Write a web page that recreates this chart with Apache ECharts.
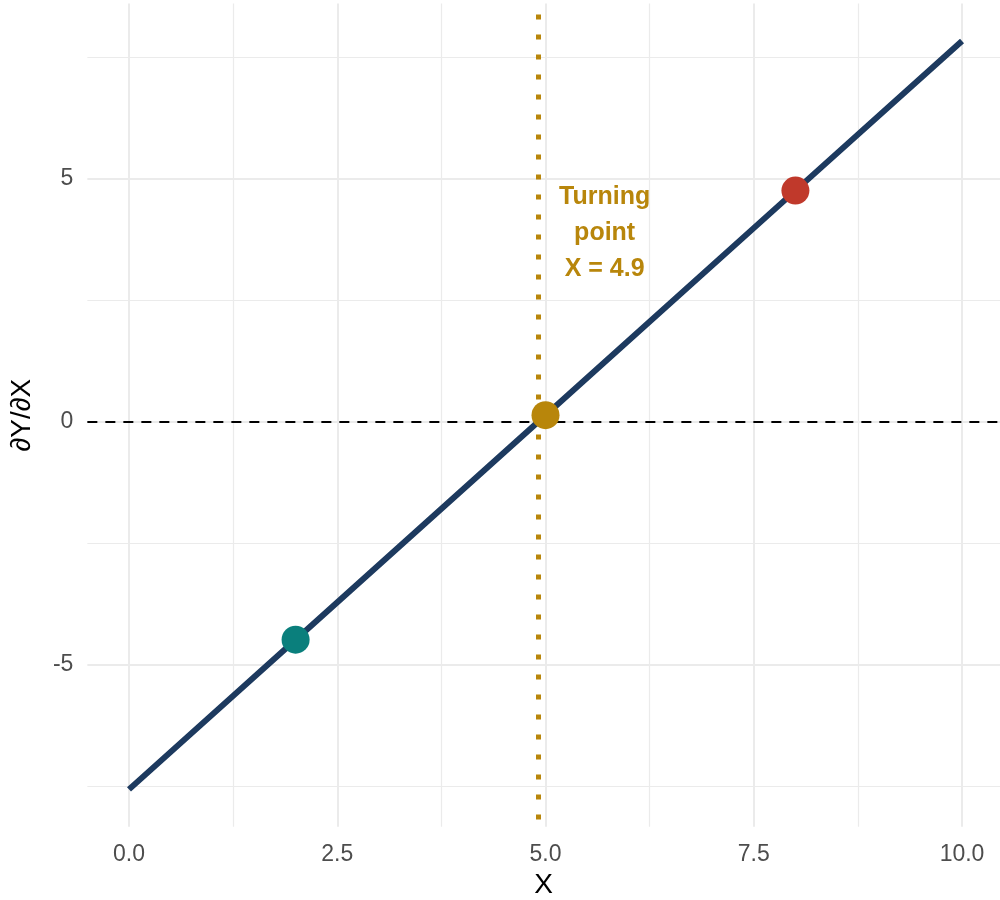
<!DOCTYPE html>
<html>
<head>
<meta charset="utf-8">
<script src="https://cdn.jsdelivr.net/npm/echarts@6/dist/echarts.min.js"></script>
<style>
  html, body { margin: 0; padding: 0; background: #ffffff; }
  #chart { width: 1000px; height: 900px; }
</style>
</head>
<body>
<div id="chart"></div>
<script>
// Marginal effect dY/dX along X
const lineX = [0, 2, 5, 8, 10];
const lineY = [-7.56, -4.48, 0.14, 4.76, 7.84];

// Highlighted points
const pointX = [2, 5, 8];
const pointY = [-4.48, 0.14, 4.76];
const pointColors = ['#0a7f7c', '#b8860b', '#c0392b'];

// Turning point where the effect crosses zero
const turningX = 4.91;
const noteLines = ['Turning', 'point', 'X = 4.9'];
const noteAt = [5.71, 3.88];

// Axis ticks and grid lines
const xTicks = [0, 2.5, 5, 7.5, 10];
const xMinor = [1.25, 3.75, 6.25, 8.75];
const yTicks = [-5, 0, 5];
const yMinor = [-7.5, -2.5, 2.5, 7.5];

const X_MIN = -0.5, X_MAX = 10.456;
const Y_MIN = -8.33, Y_MAX = 8.61;

const FONT = '"Liberation Sans", Arial, sans-serif';
const GOLD = '#b8860b';
const GRID = '#ebebeb';

const chart = echarts.init(document.getElementById('chart'), null, { renderer: 'canvas' });

const gridLines = []
  .concat(xTicks.map(v => ({ xAxis: v, lineStyle: { width: 2 } })))
  .concat(xMinor.map(v => ({ xAxis: v, lineStyle: { width: 1.2 } })))
  .concat(yTicks.map(v => ({ yAxis: v, lineStyle: { width: 2 } })))
  .concat(yMinor.map(v => ({ yAxis: v, lineStyle: { width: 1.2 } })));

chart.setOption({
  animation: false,
  backgroundColor: '#ffffff',
  grid: {
    left: 87.35, top: 3.5, width: 912.65, height: 823.3,
    containLabel: false,
    outerBoundsMode: 'none'
  },
  xAxis: {
    type: 'value',
    min: X_MIN,
    max: X_MAX,
    axisLine: { show: false },
    axisTick: { show: false },
    splitLine: { show: false },
    axisLabel: {
      customValues: xTicks,
      formatter: v => v.toFixed(1),
      color: '#4d4d4d',
      fontSize: 23,
      fontFamily: FONT,
      margin: 16
    },
    name: 'X',
    nameLocation: 'middle',
    nameGap: 44,
    nameTextStyle: { color: '#000000', fontSize: 28, fontFamily: FONT }
  },
  yAxis: {
    type: 'value',
    min: Y_MIN,
    max: Y_MAX,
    axisLine: { show: false },
    axisTick: { show: false },
    splitLine: { show: false },
    axisLabel: {
      customValues: yTicks,
      formatter: v => String(v),
      color: '#4d4d4d',
      fontSize: 23,
      fontFamily: FONT,
      margin: 14
    },
    name: '∂Y/∂X',
    nameLocation: 'middle',
    nameGap: 51,
    nameTextStyle: { color: '#000000', fontSize: 28, fontFamily: FONT }
  },
  series: [
    {
      // panel grid lines
      type: 'line',
      silent: true,
      z: 1,
      data: [],
      markLine: {
        z: 0,
        silent: true,
        symbol: ['none', 'none'],
        label: { show: false },
        lineStyle: { color: GRID, type: 'solid' },
        data: gridLines
      }
    },
    {
      // zero reference and turning point reference
      type: 'line',
      silent: true,
      z: 2,
      data: [],
      markLine: {
        z: 1,
        silent: true,
        symbol: ['none', 'none'],
        label: { show: false },
        data: [
          { yAxis: 0, lineStyle: { color: '#000000', width: 2, type: [10, 8] } },
          [
            { coord: [turningX, Y_MAX], lineStyle: { color: GOLD, width: 5, type: [5, 15], dashOffset: 9 } },
            { coord: [turningX, Y_MIN] }
          ]
        ]
      }
    },
    {
      type: 'line',
      z: 3,
      data: lineX.map((x, i) => [x, lineY[i]]),
      showSymbol: false,
      lineStyle: { color: '#1d3a5f', width: 6, cap: 'butt' }
    },
    {
      type: 'scatter',
      z: 4,
      symbolSize: 28,
      itemStyle: { opacity: 1 },
      data: pointX.map((x, i) => ({
        value: [x, pointY[i]],
        itemStyle: { color: pointColors[i], opacity: 1 }
      }))
    },
    {
      type: 'scatter',
      z: 5,
      symbolSize: 0,
      silent: true,
      itemStyle: { opacity: 1 },
      data: [noteAt],
      label: {
        show: true,
        position: 'inside',
        formatter: noteLines.join('\n'),
        color: GOLD,
        fontSize: 25,
        fontWeight: 'bold',
        lineHeight: 36,
        align: 'center',
        fontFamily: FONT
      }
    }
  ]
});
</script>
</body>
</html>
